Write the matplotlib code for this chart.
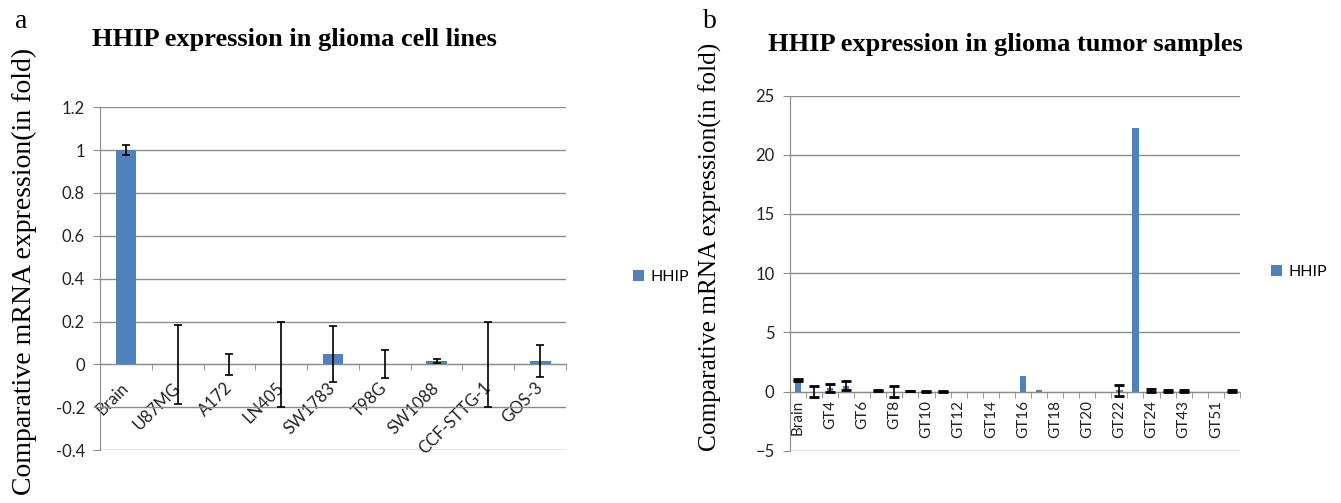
import matplotlib
matplotlib.use('Agg')
import matplotlib.pyplot as plt
import numpy as np

# panel a: cell lines
cell_lines = ['Brain', 'U87MG', 'A172', 'LN405', 'SW1783', 'T98G',
              'SW1088', 'CCF-STTG-1', 'GOS-3']
cell_expr = [1.0, 0.0, 0.0, 0.0, 0.048, 0.0, 0.015, 0.0, 0.016]
cell_err = [0.025, 0.185, 0.05, 0.2, 0.13, 0.065, 0.008, 0.2, 0.075]

# panel b: tumor samples (only every other label is shown in the original)
tumors = ['Brain', 'GT3', 'GT4', 'GT5', 'GT6', 'GT7', 'GT8', 'GT9', 'GT10',
          'GT11', 'GT12', 'GT13', 'GT14', 'GT15', 'GT16', 'GT17', 'GT18',
          'GT19', 'GT20', 'GT21', 'GT22', 'GT23', 'GT24', 'GT25', 'GT43',
          'GT45', 'GT51', 'GT52']
tumor_expr = [1.0, 0.0, 0.3, 0.5, 0.0, 0.05, 0.0, 0.05, 0.03,
              0.03, 0.0, 0.0, 0.0, 0.0, 1.35, 0.1, 0.0,
              0.0, 0.0, 0.0, 0.1, 22.3, 0.05, 0.03, 0.08,
              0.0, 0.0, 0.08]
tumor_err = [0.08, 0.45, 0.3, 0.35, 0.0, 0.04, 0.5, 0.03, 0.05,
             0.05, 0.0, 0.0, 0.0, 0.0, 0.0, 0.0, 0.0,
             0.0, 0.0, 0.0, 0.45, 0.0, 0.12, 0.06, 0.08,
             0.0, 0.0, 0.08]

BAR = '#4f81bd'
GRID = '#8c8c8c'
SANS = ['Lato', 'DejaVu Sans']
SERIF = ['Liberation Serif', 'DejaVu Serif']


def style_axes(ax, n, ymin, ymax, step):
    ax.set_xlim(-0.5, n - 0.5)
    ax.set_ylim(ymin, ymax)
    ax.set_yticks(np.arange(ymin, ymax + step / 2, step))
    ax.yaxis.grid(True, color=GRID, linewidth=1.0)
    ax.set_axisbelow(True)
    for s in ['top', 'right']:
        ax.spines[s].set_visible(False)
    ax.spines['left'].set_color(GRID)
    ax.spines['bottom'].set_color(GRID)
    ax.spines['bottom'].set_position(('data', 0))
    ax.tick_params(axis='y', colors=GRID, length=5, pad=6, labelsize=12,
                   labelcolor='#222222')
    ax.set_xticks(np.arange(n + 1) - 0.5, minor=True)
    ax.tick_params(axis='x', which='minor', length=4, color=GRID)
    for lab in ax.get_yticklabels():
        lab.set_fontfamily(SANS)


def add_legend(ax, x, y):
    ax.legend(loc='center left', bbox_to_anchor=(x, y), frameon=False,
              borderaxespad=0, borderpad=0,
              handlelength=0.7, handleheight=0.7, handletextpad=0.4,
              prop={'family': SANS, 'size': 11.5})


fig = plt.figure(figsize=(13.41, 5.03), dpi=100)

# ---- panel a
ax1 = fig.add_axes([0.0746, 0.105, 0.3475, 0.682])
x1 = np.arange(len(cell_lines))
ax1.bar(x1, cell_expr, width=0.4, color=BAR, label='HHIP', zorder=2)
ax1.errorbar(x1, cell_expr, yerr=cell_err, fmt='none', ecolor='black',
             elinewidth=1.2, capsize=3, capthick=1.2, zorder=3)
style_axes(ax1, len(cell_lines), -0.4, 1.2, 0.2)
ax1.set_yticklabels(['-0.4', '-0.2', '0', '0.2', '0.4', '0.6', '0.8', '1', '1.2'])
ax1.set_xticks(x1)
ax1.tick_params(axis='x', which='major', length=0, pad=15,
                labelsize=12, labelcolor='#222222')
ax1.set_xticklabels(cell_lines, rotation=45, ha='right', va='center',
                    rotation_mode='anchor', family=SANS)
ax1.set_title('HHIP expression in glioma cell lines', family=SERIF,
              fontweight='bold', fontsize=19, pad=44, x=0.418)
ax1.set_ylabel('Comparative mRNA expression(in fold)', family=SERIF,
               fontsize=20)
ax1.yaxis.set_label_coords(-0.135, 0.52)
add_legend(ax1, 1.144, 0.504)
fig.text(0.011, 0.945, 'a', family=SERIF, fontsize=20)

# ---- panel b
ax2 = fig.add_axes([0.589, 0.104, 0.3356, 0.706])
x2 = np.arange(len(tumors))
ax2.bar(x2, tumor_expr, width=0.4, color=BAR, label='HHIP', zorder=2)
has_err = np.array(tumor_err) > 0
ax2.errorbar(x2[has_err], np.array(tumor_expr)[has_err],
             yerr=np.array(tumor_err)[has_err], fmt='none', ecolor='black',
             elinewidth=1.2, capsize=3.5, capthick=2, zorder=3)
style_axes(ax2, len(tumors), -5, 25, 5)
ax2.set_xticks(x2[::2])
ax2.tick_params(axis='x', which='major', length=0, pad=6,
                labelsize=11, labelcolor='#222222')
ax2.set_xticklabels(tumors[::2], rotation=90, va='top', family=SANS)
ax2.set_title('HHIP expression in glioma tumor samples', family=SERIF,
              fontweight='bold', fontsize=19, pad=32, x=0.478)
ax2.set_ylabel('Comparative mRNA expression(in fold)', family=SERIF,
               fontsize=18.3)
ax2.yaxis.set_label_coords(-0.151, 0.574)
add_legend(ax2, 1.069, 0.503)
fig.text(0.524, 0.945, 'b', family=SERIF, fontsize=20)

fig.savefig('out.png', dpi=100)
